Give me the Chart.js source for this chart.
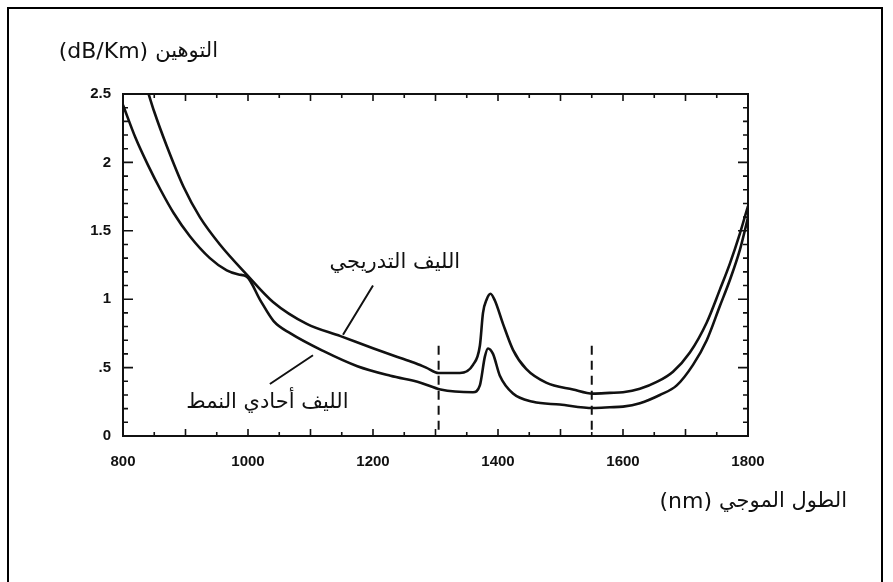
<!DOCTYPE html>
<html lang="ar">
<head>
<meta charset="utf-8">
<title>التوهين في الألياف الضوئية</title>
<script src="https://cdn.jsdelivr.net/npm/chart.js@4/dist/chart.umd.min.js"></script>
<style>
  html, body { margin: 0; padding: 0; background: #fff; overflow: hidden; }
  #frame { position: absolute; left: 7px; top: 7px; width: 876px; height: 640px;
           border: 2px solid #000; box-sizing: border-box; }
  #wrap { position: absolute; left: 0; top: 0; width: 893px; height: 582px; }
</style>
</head>
<body>
<div id="frame"></div>
<div id="wrap"><canvas id="c" width="893" height="582"></canvas></div>
<script>
// Graded-index fibre: wavelength (nm) and attenuation (dB/km)
const gradedWavelength = [841, 850, 870, 897, 923, 955, 998, 1040, 1094, 1148, 1201, 1244, 1269, 1285, 1305,
  1339, 1360, 1371, 1376, 1382, 1388, 1395, 1408, 1424, 1445, 1477, 1520, 1552, 1579, 1600, 1627,
  1654, 1680, 1707, 1734, 1755, 1771, 1787, 1798, 1800];
const gradedLoss = [2.50, 2.37, 2.12, 1.82, 1.60, 1.40, 1.18, 0.98, 0.82, 0.73, 0.64, 0.57, 0.53, 0.50, 0.46,
  0.46, 0.52, 0.66, 0.90, 1.00, 1.04, 0.99, 0.82, 0.63, 0.49, 0.39, 0.34, 0.31, 0.315, 0.32, 0.345,
  0.395, 0.47, 0.61, 0.83, 1.07, 1.26, 1.48, 1.65, 1.68];

// Single-mode fibre: wavelength (nm) and attenuation (dB/km)
const singleWavelength = [800, 820, 840, 860, 881, 907, 939, 966, 985, 998, 1020, 1041, 1068, 1121, 1175, 1228,
  1276, 1308, 1360, 1371, 1379, 1384, 1392, 1403, 1424, 1456, 1499, 1552, 1579, 1600, 1627,
  1659, 1686, 1712, 1734, 1755, 1771, 1787, 1798, 1800];
const singleLoss = [2.42, 2.18, 1.98, 1.80, 1.63, 1.46, 1.30, 1.21, 1.18, 1.165, 0.99, 0.84, 0.75, 0.62, 0.51, 0.44,
  0.39, 0.34, 0.32, 0.37, 0.58, 0.64, 0.60, 0.44, 0.31, 0.25, 0.23, 0.205, 0.21, 0.215, 0.24,
  0.30, 0.37, 0.52, 0.70, 0.95, 1.14, 1.36, 1.56, 1.60];

// Axis ticks
const xTickValues = [800, 1000, 1200, 1400, 1600, 1800];
const yTickValues = [0, 0.5, 1, 1.5, 2, 2.5];
const yTickLabels = ['0', '.5', '1', '1.5', '2', '2.5'];

// Transmission windows marked with dashed verticals
const windowWavelength = [1305, 1550];
const windowTop = 0.66;

// Texts: axis titles are a word plus a unit
const yAxisWord = 'التوهين';
const yAxisUnit = '(dB/Km)';
const xAxisWord = 'الطول الموجي';
const xAxisUnit = '(nm)';
const gradedLabel = 'الليف التدريجي';
const singleLabel = 'الليف أحادي النمط';

// Curve labels with their leader lines, in data units (nm, dB/km)
const gradedLabelAt = [1235, 1.267];
const gradedLeader = [[1200, 1.10], [1152, 0.74]];
const singleLabelAt = [1031, 0.243];
const singleLeader = [[1104, 0.59], [1035, 0.38]];

const toPoints = (xs, ys) => xs.map((x, i) => ({ x, y: ys[i] }));
const INK = '#111';
const ARABIC_FONT = '21px "DejaVu Sans", "Noto Sans", sans-serif';
const UNIT_FONT = '22px "DejaVu Sans", "Noto Sans", sans-serif';
const TICK_FONT = { family: '"Liberation Sans", Arial, sans-serif', size: 15, weight: 'bold' };

// Right-aligned Arabic word with its unit to the left of it
function drawAxisTitle(ctx, word, unit, right, mid) {
  ctx.textBaseline = 'middle';
  ctx.font = ARABIC_FONT;
  ctx.direction = 'rtl';
  ctx.textAlign = 'right';
  ctx.fillText(word, right, mid);
  const wordWidth = ctx.measureText(word).width;
  ctx.font = UNIT_FONT;
  ctx.direction = 'ltr';
  ctx.textAlign = 'right';
  ctx.fillText(unit, right - wordWidth - 7, mid);
}

const decorations = {
  id: 'decorations',
  afterDatasetsDraw(chart) {
    const { ctx, chartArea: a, scales: { x, y } } = chart;
    ctx.save();
    ctx.strokeStyle = INK;
    ctx.fillStyle = INK;

    // plot frame
    ctx.lineWidth = 2;
    ctx.strokeRect(a.left, a.top, a.right - a.left, a.bottom - a.top);

    // inward ticks on all four sides
    ctx.lineWidth = 1.6;
    ctx.beginPath();
    for (let v = 850; v < 1800; v += 50) {
      const px = x.getPixelForValue(v);
      const len = v % 100 === 0 ? 7 : 4;
      ctx.moveTo(px, a.bottom); ctx.lineTo(px, a.bottom - len);
      ctx.moveTo(px, a.top); ctx.lineTo(px, a.top + len);
    }
    for (let k = 1; k < 25; k++) {
      const py = y.getPixelForValue(k / 10);
      const len = k % 5 === 0 ? 10 : 5;
      ctx.moveTo(a.left, py); ctx.lineTo(a.left + len, py);
      ctx.moveTo(a.right, py); ctx.lineTo(a.right - len, py);
    }
    ctx.stroke();

    // dashed window markers
    ctx.lineWidth = 2;
    ctx.setLineDash([9, 6]);
    ctx.beginPath();
    windowWavelength.forEach(w => {
      const px = x.getPixelForValue(w);
      ctx.moveTo(px, y.getPixelForValue(windowTop));
      ctx.lineTo(px, a.bottom);
    });
    ctx.stroke();
    ctx.setLineDash([]);

    // leader lines
    ctx.lineWidth = 2;
    ctx.beginPath();
    [gradedLeader, singleLeader].forEach(([p, q]) => {
      ctx.moveTo(x.getPixelForValue(p[0]), y.getPixelForValue(p[1]));
      ctx.lineTo(x.getPixelForValue(q[0]), y.getPixelForValue(q[1]));
    });
    ctx.stroke();

    // curve labels
    ctx.font = ARABIC_FONT;
    ctx.direction = 'rtl';
    ctx.textAlign = 'center';
    ctx.textBaseline = 'middle';
    ctx.fillText(gradedLabel, x.getPixelForValue(gradedLabelAt[0]), y.getPixelForValue(gradedLabelAt[1]));
    ctx.fillText(singleLabel, x.getPixelForValue(singleLabelAt[0]), y.getPixelForValue(singleLabelAt[1]));

    // axis titles
    drawAxisTitle(ctx, yAxisWord, yAxisUnit, 218, 52);
    drawAxisTitle(ctx, xAxisWord, xAxisUnit, 847, 502);
    ctx.restore();
  }
};

new Chart(document.getElementById('c'), {
  type: 'line',
  data: {
    datasets: [
      { label: gradedLabel, data: toPoints(gradedWavelength, gradedLoss) },
      { label: singleLabel, data: toPoints(singleWavelength, singleLoss) }
    ]
  },
  options: {
    responsive: false,
    animation: false,
    devicePixelRatio: 1,
    layout: { padding: { left: 0, top: 94, right: 145, bottom: 0 } },
    elements: {
      line: { borderColor: INK, borderWidth: 2.6, cubicInterpolationMode: 'monotone', fill: false },
      point: { radius: 0, hoverRadius: 0 }
    },
    plugins: { legend: { display: false }, tooltip: { enabled: false }, title: { display: false } },
    scales: {
      x: {
        type: 'linear', min: 800, max: 1800,
        afterFit: s => { s.height = 146; },
        afterBuildTicks: s => { s.ticks = xTickValues.map(value => ({ value })); },
        grid: { display: false, drawTicks: false },
        border: { display: false },
        ticks: { color: INK, padding: 17, maxRotation: 0, font: TICK_FONT,
                 callback: v => String(v) }
      },
      y: {
        type: 'linear', min: 0, max: 2.5,
        afterFit: s => { s.width = 123; },
        afterBuildTicks: s => { s.ticks = yTickValues.map(value => ({ value })); },
        grid: { display: false, drawTicks: false },
        border: { display: false },
        ticks: { color: INK, padding: 12, font: TICK_FONT,
                 callback: v => yTickLabels[yTickValues.indexOf(v)] }
      }
    }
  },
  plugins: [decorations]
});
</script>
</body>
</html>
